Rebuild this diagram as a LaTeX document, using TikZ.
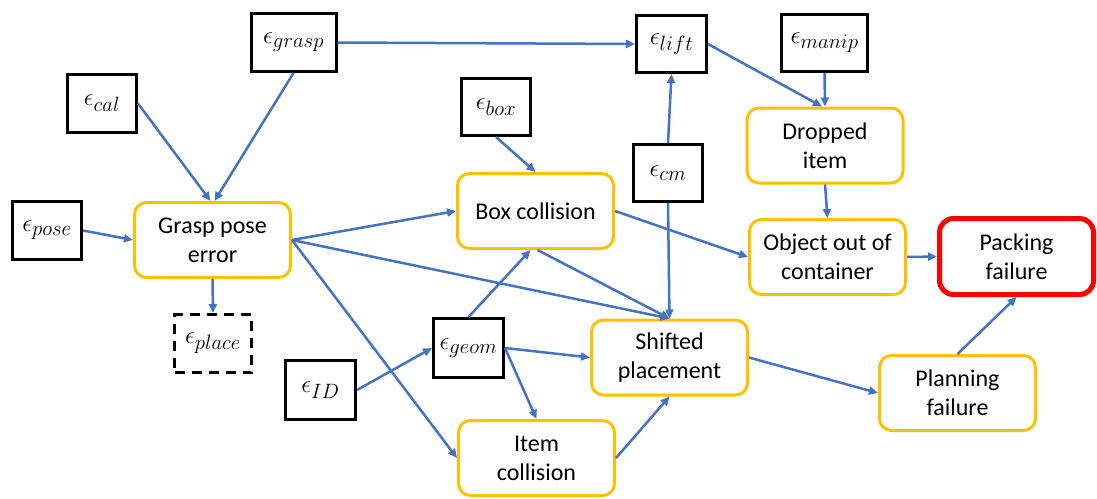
\documentclass[tikz,border=0pt]{standalone}
\usepackage{fontspec}
\setmainfont{Carlito}
\usetikzlibrary{arrows.meta,calc}
\DeclareMathSizes{26}{26}{21}{15}
\definecolor{linkblue}{HTML}{4472C4}
\definecolor{stageorange}{HTML}{FFC000}
\definecolor{failred}{HTML}{FF0000}
\begin{document}
\begin{tikzpicture}[x=1pt,y=-1pt,
  errsrc/.style={draw=black,line width=3pt,minimum width=69pt,minimum height=58pt,
    inner sep=0pt,font=\fontsize{26}{30}\selectfont},
  stage/.style={draw=stageorange,line width=3pt,rounded corners=12pt,
    minimum width=156pt,minimum height=75pt,align=center,inner sep=0pt,
    font=\fontsize{24}{29}\selectfont},
  link/.style={draw=linkblue,line width=2.5pt,-{Triangle[length=9pt,width=8pt]}}]
\useasboundingbox (0,0) rectangle (1097,498);

% error sources
\node[errsrc,minimum width=85pt] (grasp) at (293.5,42.5) {$\epsilon_{grasp}$};
\node[errsrc] (cal)   at (102,103.5)  {$\epsilon_{cal}$};
\node[errsrc] (pose)  at (47,230.5)   {$\epsilon_{pose}$};
\node[errsrc,minimum width=70pt,minimum height=57pt] (lift)  at (671.5,44) {$\epsilon_{lift}$};
\node[errsrc,minimum height=57pt] (box)   at (496,107)    {$\epsilon_{box}$};
\node[errsrc,minimum height=57pt] (cm)    at (668,173)    {$\epsilon_{cm}$};
\node[errsrc,minimum width=86pt,minimum height=57pt] (manip) at (824.5,43) {$\epsilon_{manip}$};
\node[errsrc,dashed,dash pattern=on 10pt off 7pt,minimum width=77pt] (place) at (213,343.5) {$\epsilon_{place}$};
\node[errsrc,minimum width=70pt,minimum height=59pt] (id)   at (320.5,390) {$\epsilon_{ID}$};
\node[errsrc,minimum width=70pt,minimum height=59pt] (geom) at (468.5,348) {$\epsilon_{geom}$};

% intermediate stages
\node[stage] (gpe)      at (212.5,240)   {Grasp pose\\error};
\node[stage] (boxc)     at (535.5,211)   {Box collision};
\node[stage] (dropped)  at (825,145.5)   {Dropped\\item};
\node[stage] (objout)   at (827.5,257)   {Object out of\\container};
\node[stage] (shifted)  at (669.5,357.5) {Shifted\\placement};
\node[stage] (itemc)    at (536.5,458)   {Item\\collision};
\node[stage] (planning) at (957.5,393)   {Planning\\failure};
\node[stage,draw=failred,line width=5pt,rounded corners=14pt,minimum width=154pt,
  minimum height=76pt] (packing) at (1016.5,256.5) {Packing\\failure};

% causal links
\draw[link] (cal.east) -- ($(gpe.north)+(-2,0)$);
\draw[link] (grasp.south) -- ($(gpe.north)+(2,0)$);
\draw[link] (pose.east) -- (gpe.west);
\draw[link] (gpe.south) -- (place.north);
\draw[link] (gpe.east) -- (boxc.west);
\draw[link] (gpe.east) -- (shifted.north);
\draw[link] (gpe.east) -- (itemc.west);
\draw[link] (grasp.east) -- (lift.west);
\draw[link] (box.south) -- (boxc.north);
\draw[link] (lift.east) -- ($(dropped.north)+(-3,0)$);
\draw[link] (manip.south) -- (dropped.north);
\draw[link] (cm.north) -- (lift.south);
\draw[link] (cm.south) -- (shifted.north);
\draw[link] (boxc.east) -- (objout.west);
\draw[link] ($(boxc.south)+(2,0)$) -- (shifted.north);
\draw[link] (geom.north) -- ($(boxc.south)+(-5,0)$);
\draw[link] (id.east) -- (geom.west);
\draw[link] (geom.east) -- (shifted.west);
\draw[link] (geom.east) -- (itemc.north);
\draw[link] (itemc.east) -- (shifted.south);
\draw[link] (dropped.south) -- (objout.north);
\draw[link] (objout.east) -- (packing.west);
\draw[link] (shifted.east) -- (planning.west);
\draw[link] (planning.north) -- (packing.south);
\end{tikzpicture}
\end{document}
